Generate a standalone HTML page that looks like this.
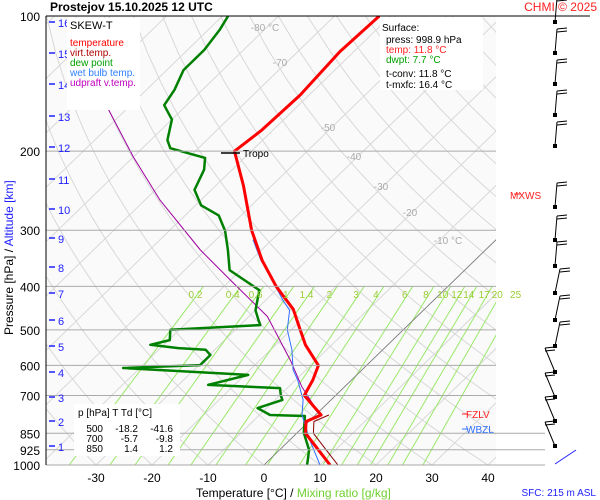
<!DOCTYPE html>
<html><head><meta charset="utf-8"><style>
body{margin:0;background:#fff;}
svg{display:block;font-family:"Liberation Sans",sans-serif;}
</style></head><body>
<svg id="c" width="600" height="500" viewBox="0 0 600 500" xmlns="http://www.w3.org/2000/svg">
<defs><clipPath id="pc"><rect x="46" y="16" width="450" height="449"/></clipPath></defs>
<rect x="0" y="0" width="600" height="500" fill="#fff"/>
<rect x="46" y="16" width="450" height="449" fill="#fafafa"/>
<g id="grid" clip-path="url(#pc)"></g>
<g id="series" clip-path="url(#pc)"></g>
<g id="over"></g>
</svg>
<script>
const tempP=[1000,925,850,800,774,700,647,600,540,500,450,400,350,300,239,200,180,150,120,100];
const tempT=[11.8,6.9,1.6,-0.5,1.0,-5.6,-6.9,-8.6,-14.7,-18.4,-23.4,-30.7,-38,-45.4,-55,-63,-62,-61.6,-62.5,-62];
const dewP=[1000,926,848,778,774,747,716,700,674,663,630,608,599,569,554,549,540,527,500,488,475,452,408,368,332,301,278,264,244,220,207,197,189,170,158,146,132,119,107,100];
const dewT=[7.7,5.3,1.2,-1.7,-8.1,-11.6,-8.7,-9.8,-11.3,-24.7,-19.4,-43,-29.8,-29.8,-31.6,-36.8,-42.4,-39.8,-41.6,-26.4,-27.7,-30,-33,-42,-46,-50,-54,-59,-63,-65,-67,-75,-77,-80,-84,-85,-87,-87,-88,-89];
const wbP=[1000,880,774,716,647,614,554,500,452,429,387,350,315];
const wbT=[10.0,3.6,-2.4,-5.0,-9.6,-12.3,-16.2,-20.7,-23.9,-27,-32.6,-38.2,-43.4];
const parcelP=[102,162,206,257,332,393,467,584,670,762];
const parcelT=[-116,-93,-80,-67.3,-50.9,-39,-26.7,-14.6,-7.6,-0.1];
const mixW=[0.2,0.4,0.6,1,1.4,2,3,4,6,8,10,12,14,17,20,25];
const pLabels=[100,200,300,400,500,600,700,850,925,1000];
const tLabels=[-30,-20,-10,0,10,20,30,40];
const kmLabels=[1,2,3,4,5,6,7,8,9,10,11,12,13,14,15,16];
const kmY=[446,421,397,372,346,320,293,267,238,209,179,147,116,84,53,22];
const barbY=[22,53,84,115,146,207,240,266,293,320,346,372,397,421,446];

const NS="http://www.w3.org/2000/svg";
function py(p){return 16+449*Math.log10(p/100);}
function tx(t,p){return 264+5.6*t+(465-py(p))*1.03;}
function mk(tag,attrs,parent){const e=document.createElementNS(NS,tag);for(const k in attrs)e.setAttribute(k,attrs[k]);parent.appendChild(e);return e;}
const grid=document.getElementById('grid'),ser=document.getElementById('series'),over=document.getElementById('over');
function txt(x,y,s,fill,size,anchor,parent,name,weight){const e=mk('text',{x:x,y:y,fill:fill,'font-size':size,'text-anchor':anchor||'start'},parent);if(weight)e.setAttribute('font-weight',weight);e.textContent=s;


return e;}
for(let t=-160;t<=50;t+=10){const l=mk('line',{x1:tx(t,1000),y1:py(1000),x2:tx(t,100),y2:py(100),stroke:'#d8d8d8','stroke-width':1},grid);

}
for(let th=-40;th<=220;th+=10){let pts=[];for(let p=1000;p>=100;p-=20){const T=(th+273.15)*Math.pow(p/1000,0.286)-273.15;pts.push(tx(T,p).toFixed(1)+','+py(p).toFixed(1));}
const l=mk('polyline',{points:pts.join(' '),fill:'none',stroke:'#d8d8d8','stroke-width':1},grid);

}
function tdFromW(w,p){const e=w*p/(622+w);const a=Math.log(e/6.112);return 243.5*a/(17.67-a);}
mixW.forEach(w=>{const l=mk('line',{x1:tx(tdFromW(w,1000),1000),y1:py(1000),x2:tx(tdFromW(w,400),400),y2:py(400),stroke:'#9be86a','stroke-width':1},grid);


txt(tx(tdFromW(w,400),400)-8,298,String(w),'#9acd32',10,'middle',over,'mixing-ratio-label');});
const z=mk('line',{x1:tx(0,1000),y1:py(1000),x2:tx(0,300),y2:py(300),stroke:'#777','stroke-width':0.8},grid);


pLabels.forEach(p=>{const long=p>=850;const l=mk('line',{x1:46,y1:py(p),x2:p==100?590:(long?545:496),y2:py(p),stroke:p==100?'#000':'#aaa','stroke-width':1},over);


txt(40,py(p)+5,String(p),'#000',12,'end',over,'pressure-tick-label');});
const ax=mk('line',{x1:46,y1:16,x2:46,y2:465,stroke:'#000','stroke-width':1},over);


[[265,31,'-80 °C'],[280,66,'-70'],[328,131,'-50'],[354,160,'-40'],[381,190,'-30'],[410,216,'-20'],[448,244,'-10 °C']].forEach(a=>txt(a[0],a[1],a[2],'#aaa',10,'middle',over,'isotherm-label'));
function line(P,T,color,w,name){const pts=P.map((p,i)=>tx(T[i],p).toFixed(1)+','+py(p).toFixed(1)).join(' ');const l=mk('polyline',{points:pts,fill:'none',stroke:color,'stroke-width':w,'stroke-linejoin':'round'},ser);

}
line(parcelP,parcelT,'#a000a0',1,'parcel-line');
line(dewP,dewT,'#008000',2.5,'dewpoint-line');
line(wbP,wbT,'#3070ff',1,'wetbulb-line');
const vP=tempP.slice(0,5),vT=tempT.slice(0,5).map(t=>t+1.4);
line(vP,vT,'#8b0000',1,'virtual-temp-line');
line(tempP,tempT,'#ff0000',3,'temperature-line');
kmLabels.forEach((k,i)=>{const l=mk('line',{x1:49,y1:kmY[i],x2:55,y2:kmY[i],stroke:'#2020ff','stroke-width':1.5},over);


txt(58,kmY[i]+5,String(k),'#2020ff',11,'start',over,'altitude-label');});
tLabels.forEach(t=>txt(264+5.6*t,482,String(t),'#000',12,'middle',over,'temperature-tick-label'));
barbY.forEach((y,i)=>{const g=mk('g',{},over);


let dx=i<8?2:(i<11?5:-10);
mk('line',{x1:555,y1:y,x2:555+dx,y2:y-24,stroke:'#000','stroke-width':1},g);
mk('line',{x1:555+dx,y1:y-24,x2:565+dx,y2:y-25,stroke:'#000','stroke-width':1},g);
mk('line',{x1:555+dx,y1:y-21,x2:565+dx,y2:y-22,stroke:'#000','stroke-width':1},g);
mk('rect',{x:553,y:y-2,width:4,height:4,fill:'#000'},g);});
const bl=mk('line',{x1:555,y1:464,x2:576,y2:450,stroke:'#2020ff','stroke-width':1},over);


const tr=mk('line',{x1:221,y1:153,x2:240,y2:153,stroke:'#000','stroke-width':1.5},over);


txt(243,157,'Tropo','#000',10,'start',over,'tropopause-label');
const b1=mk('rect',{x:67,y:18,width:73,height:92,fill:'#fff'},over);


txt(70,29,'SKEW-T','#000',11,'start',over,'legend-title');
[['temperature','#ff0000'],['virt.temp.','#b00000'],['dew point','#00a000'],['wet bulb temp.','#3080ff'],['udpraft v.temp.','#c000c0']].forEach((a,i)=>txt(70,46+i*10,a[0],a[1],10,'start',over,'legend-entry'));
const b2=mk('rect',{x:380,y:17,width:103,height:73,fill:'#fff'},over);


[['Surface:','#000',382,31],['press: 998.9 hPa','#000',386,43],['temp: 11.8 °C','#ff2020',386,53],['dwpt: 7.7 °C','#00a000',386,63],['t-conv: 11.8 °C','#000',386,77],['t-mxfc: 16.4 °C','#000',386,88]].forEach(a=>txt(a[2],a[3],a[0],a[1],10,'start',over,'surface-info'));
const b3=mk('rect',{x:74,y:404,width:106,height:52,fill:'#fff'},over);


txt(78,416,'p [hPa]   T     Td [°C]','#000',10,'start',over,'table-header').setAttribute('xml:space','preserve');
[['500','-18.2','-41.6'],['700','-5.7','-9.8'],['850','1.4','1.2']].forEach((r,i)=>{txt(103,432+i*10,r[0],'#000',10,'end',over,'table-cell');txt(138,432+i*10,r[1],'#000',10,'end',over,'table-cell');txt(173,432+i*10,r[2],'#000',10,'end',over,'table-cell');});
txt(466,418,'FZLV','#ff2020',10,'start',over,'fzlv-label');
txt(466,433,'WBZL','#3070ff',10,'start',over,'wbzl-label');
mk('line',{x1:462,y1:414,x2:468,y2:414,stroke:'#ff2020'},over);
mk('line',{x1:462,y1:429,x2:468,y2:429,stroke:'#3070ff'},over);
txt(510,199,'MXWS','#ff2020',10,'start',over,'mxws-label');
mk('line',{x1:514,y1:194,x2:521,y2:194,stroke:'#ff2020'},over);
txt(596,496,'SFC: 215 m ASL','#2020ff',10,'end',over,'surface-altitude-label');
txt(50,11,'Prostejov    15.10.2025 12 UTC','#000',12,'start',over,'chart-title','bold').setAttribute('xml:space','preserve');
txt(597,11,'CHMI © 2025','#ff2020',12,'end',over,'copyright');
const xt=mk('text',{x:196,y:497,'font-size':12,fill:'#000'},over);


xt.innerHTML='Temperature [°C]  /  <tspan fill="#70d030">Mixing ratio [g/kg]</tspan>';
xt.setAttribute('xml:space','preserve');
const yt=mk('text',{x:0,y:0,'font-size':12,fill:'#000',transform:'translate(13,335) rotate(-90)'},over);


yt.innerHTML='Pressure [hPa]  /  <tspan fill="#2020ff">Altitude [km]</tspan>';
yt.setAttribute('xml:space','preserve');
</script>
</body></html>
